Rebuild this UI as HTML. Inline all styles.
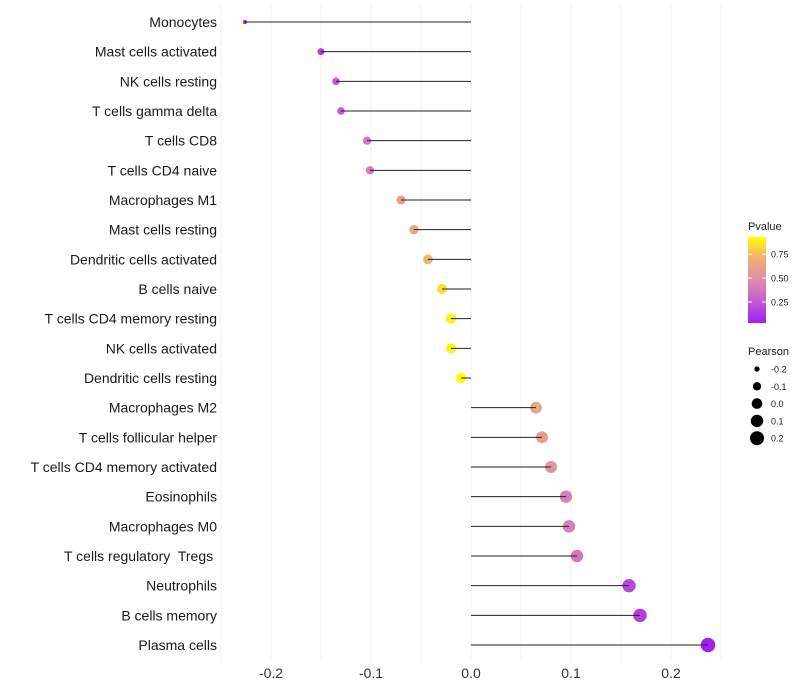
<!DOCTYPE html>
<html><head><meta charset="utf-8"><style>body{margin:0;background:#fff}svg{display:block;font-family:"Liberation Sans",sans-serif}text{white-space:pre}</style></head>
<body>
<svg id="chart" width="800" height="700"></svg>
<script>
const categories=["Monocytes","Mast cells activated","NK cells resting","T cells gamma delta","T cells CD8","T cells CD4 naive","Macrophages M1","Mast cells resting","Dendritic cells activated","B cells naive","T cells CD4 memory resting","NK cells activated","Dendritic cells resting","Macrophages M2","T cells follicular helper","T cells CD4 memory activated","Eosinophils","Macrophages M0","T cells regulatory  Tregs ","Neutrophils","B cells memory","Plasma cells"];
const pearson=[-0.226,-0.150,-0.135,-0.130,-0.104,-0.101,-0.070,-0.057,-0.043,-0.029,-0.020,-0.020,-0.010,0.065,0.071,0.080,0.095,0.098,0.106,0.158,0.169,0.237];
const pvalues=[0.03,0.15,0.24,0.25,0.40,0.41,0.60,0.66,0.72,0.84,0.90,0.90,0.93,0.64,0.58,0.52,0.42,0.42,0.38,0.18,0.15,0.03];
const xTicks=[-0.2,-0.1,0.0,0.1,0.2];
const xTickLabels=["-0.2","-0.1","0.0","0.1","0.2"];
const pTicks=[0.25,0.5,0.75];
const pTickLabels=["0.25","0.50","0.75"];
const sizeTicks=[-0.2,-0.1,0.0,0.1,0.2];
const sizeTickLabels=["-0.2","-0.1","0.0","0.1","0.2"];

const NS="http://www.w3.org/2000/svg";
const svg=document.getElementById('chart');
function mk(t,a,p){const e=document.createElementNS(NS,t);for(const k in a)e.setAttribute(k,a[k]);(p||svg).appendChild(e);return e;}
const x=v=>471+v*1000;
const y=i=>22+i*(623/21);
const r=v=>Math.sqrt(Math.max(2,28+105*v));
function lerp(a,b,t){return a.map((c,i)=>Math.round(c+(b[i]-c)*t));}
const stops=[[0.03,[160,32,240]],[0.28,[200,96,208]],[0.5,[224,144,168]],[0.7,[238,172,120]],[0.93,[255,255,0]]];
function col(p){p=Math.max(0.03,Math.min(0.93,p));for(let i=0;i<stops.length-1;i++){const[a,ca]=stops[i],[b,cb]=stops[i+1];if(p<=b){const c=lerp(ca,cb,(p-a)/(b-a));return `rgb(${c})`;}}return 'rgb(255,255,0)';}
const py=p=>323-(p-0.03)/0.9*86;

for(let g=-0.25;g<=0.25001;g+=0.05){const gl=mk('line',{x1:x(g),x2:x(g),y1:5,y2:662,stroke:'#f2f2f2','stroke-width':1});

}
xTicks.forEach((v,i)=>{const t=mk('text',{x:x(v),y:678,'text-anchor':'middle','font-size':14,fill:'#333'});t.textContent=xTickLabels[i];

});
categories.forEach((c,i)=>{
const t=mk('text',{x:217,y:y(i)+5,'text-anchor':'end','font-size':14,fill:'#1a1a1a'});t.textContent=c;


const d=mk('circle',{cx:x(pearson[i]),cy:y(i),r:r(pearson[i]),fill:col(pvalues[i])});


const l=mk('line',{x1:x(0),x2:x(pearson[i]),y1:y(i),y2:y(i),stroke:'#222','stroke-width':1});


});
const defs=mk('defs',{});const lg=mk('linearGradient',{id:'pg',x1:0,y1:1,x2:0,y2:0},defs);
stops.forEach(s=>mk('stop',{offset:(s[0]-0.03)/0.9,'stop-color':col(s[0])},lg));
const lt=mk('text',{x:748,y:230,'font-size':11,fill:'#222'});lt.textContent='Pvalue';


const cb=mk('rect',{x:748,y:237,width:18,height:86,fill:'url(#pg)'});


pTicks.forEach((p,i)=>{mk('line',{x1:748,x2:752,y1:py(p),y2:py(p),stroke:'#fff'});mk('line',{x1:762,x2:766,y1:py(p),y2:py(p),stroke:'#fff'});
const t=mk('text',{x:771,y:py(p)+3.5,'font-size':9,fill:'#222'});t.textContent=pTickLabels[i];

});
const st=mk('text',{x:748,y:355,'font-size':11,fill:'#222'});st.textContent='Pearson';


sizeTicks.forEach((v,i)=>{const cy=369+i*17.3;
const c=mk('circle',{cx:757,cy:cy,r:r(v),fill:'#000'});


const t=mk('text',{x:771,y:cy+3.5,'font-size':9,fill:'#222'});t.textContent=sizeTickLabels[i];

});
</script>
</body></html>
